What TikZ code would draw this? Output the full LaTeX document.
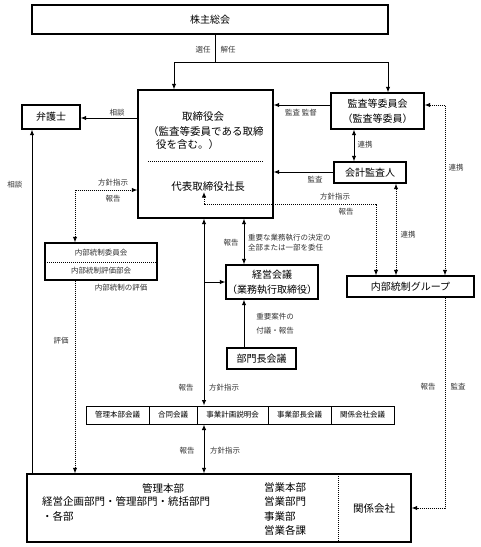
\documentclass[tikz,border=0pt]{standalone}
\usepackage{fontspec}
\setmainfont{Noto Sans CJK JP}
\usetikzlibrary{arrows.meta,calc}
\tikzset{
  box/.style={draw, line width=1.2pt, inner sep=0pt, align=center, font=\fontsize{10}{15}\selectfont},
  cell/.style={draw, line width=1pt, inner sep=0pt, minimum height=18pt, font=\fontsize{7.5}{9}\selectfont},
  lbl/.style={inner sep=0pt, align=left, font=\fontsize{7.5}{10}\selectfont, text=black!80},
  txt/.style={inner sep=0pt, font=\fontsize{10.5}{12}\selectfont},
  ln/.style={line width=1pt},
  tip/.tip={Latex[length=5.5pt,width=4.5pt]},
  arr/.style={line width=1pt, -tip},
  darr/.style={line width=1pt, tip-tip},
  dot/.style={line width=1pt, densely dotted},
}
\begin{document}
\begin{tikzpicture}[x=1pt,y=-1pt]
\useasboundingbox (0,0) rectangle (480,547);

% ---- boxes
\node[box, minimum width=356pt, minimum height=29pt] (sh) at (210,19.5) {株主総会};
\node[box, minimum width=135pt, minimum height=128pt] (bod) at (205.5,154) {};
\node[txt] (bodt1) at (203,117) {取締役会};
\node[txt, anchor=west] (bodt2) at (148,132) {（監査等委員である取締};
\node[txt, anchor=west] (bodt3) at (156,145) {役を含む。）};
\draw[dot] (148,161) -- (263,161);
\node[txt] (ceo) at (208,187) {代表取締役社長};

\node[box, minimum width=93pt, minimum height=36pt] (ac) at (377.5,111) {監査等委員会\\（監査等委員）};
\node[box, minimum width=58pt, minimum height=24pt] (lw) at (51,117) {弁護士};
\node[box, minimum width=72pt, minimum height=21pt] (ca) at (370,172.5) {会計監査人};
\node[box, minimum width=127pt, minimum height=21pt] (icg) at (410.5,286.5) {内部統制グループ};

\node[box, minimum width=112pt, minimum height=37pt] (icc) at (101,261.5) {};
\node[lbl] (icc1) at (101,253) {内部統制委員会};
\node[lbl] (icc2) at (101,271) {内部統制評価部会};
\draw[dot] (45,262) -- (157,262);

\node[box, minimum width=92pt, minimum height=34pt] (mm) at (272,282) {経営会議\\（業務執行取締役）};
\node[box, minimum width=69pt, minimum height=21pt] (dh) at (261.5,358.5) {部門長会議};

% meetings row
\node[cell, minimum width=63pt] (mt1) at (117.5,415) {管理本部会議};
\node[cell, minimum width=48pt] (mt2) at (173,415) {合同会議};
\node[cell, minimum width=71pt] (mt3) at (232.5,415) {事業計画説明会};
\node[cell, minimum width=63pt] (mt4) at (299.5,415) {事業部長会議};
\node[cell, minimum width=63pt] (mt5) at (362.5,415) {関係会社会議};

% bottom box
\node[box, minimum width=384pt, minimum height=68pt] (bb) at (219,508) {};
\draw[dot] (338,474) -- (338,542);
\node[txt] (kh1) at (163,488) {管理本部};
\node[txt, anchor=west] (kh2) at (42,501) {経営企画部門・管理部門・統括部門};
\node[txt, anchor=west] (kh3) at (42,516) {・各部};
\node[txt, anchor=west] (eg1) at (264,487) {営業本部};
\node[txt, anchor=west] (eg2) at (264,501) {営業部門};
\node[txt, anchor=west] (eg3) at (264,517) {事業部};
\node[txt, anchor=west] (eg4) at (264,530) {営業各課};
\node[txt] (kk) at (374,509) {関係会社};

% ---- helper coordinates
\coordinate (j) at (215,62);
\coordinate (jl) at (174,62);
\coordinate (jr) at (388,62);
\coordinate (y105) at (0,105);
\coordinate (y118) at (0,118);
\coordinate (y172) at (0,172);
\coordinate (y190) at (0,190);
\coordinate (y204) at (0,204);
\coordinate (y282) at (0,282);
\coordinate (x32) at (32,0);
\coordinate (x75) at (75,0);
\coordinate (x204) at (204,0);
\coordinate (x244) at (244,0);
\coordinate (x354) at (354,0);
\coordinate (x376) at (376,0);
\coordinate (x396) at (396,0);
\coordinate (x445) at (445,0);

% ---- connectors
\draw[ln] (sh.south -| j) -- (j);
\draw[arr] (j) -- (jl) -- (jl |- bod.north);
\draw[arr] (j) -- (jr) -- (jr |- ac.north);
\node[lbl] (l1) at (203,50) {選任};
\node[lbl] (l2) at (228,50) {解任};

\draw[arr] (ac.west |- y105) -- (bod.east |- y105);
\node[lbl] (l3) at (301,113) {監査 監督};

\draw[arr] (bod.west |- y118) -- (lw.east |- y118);
\node[lbl] (l4) at (117,113) {相談};

\draw[arr] (bb.north -| x32) -- (lw.south -| x32);
\node[lbl] (l5) at (15,185) {相談};

\draw[arr] (ca.west |- y172) -- (bod.east |- y172);
\node[lbl] (l6) at (315,180) {監査};

\draw[darr] (ac.south -| x354) -- (ca.north -| x354);
\node[lbl] (l7) at (365,145) {連携};

\draw[dot, darr] (ac.east |- y105) -| (icg.north -| x445);
\node[lbl] (l8) at (456,168) {連携};

\draw[dot, darr] (ca.south -| x396) -- (icg.north -| x396);
\node[lbl] (l9) at (408,235) {連携};

\draw[dot, darr] (ceo.south -| x204) |- (x376 |- y204) -- (icg.north -| x376);
\node[lbl] (l10) at (335,197) {方針指示};
\node[lbl] (l11) at (346,212) {報告};

\draw[dot, darr] (icc.north -| x75) |- (bod.west |- y190);
\node[lbl] (l12) at (113,183) {方針指示};
\node[lbl] (l13) at (113,199) {報告};

\draw[dot, arr] (icc.south -| x75) -- (bb.north -| x75);
\node[lbl] (l14) at (61,341) {評価};
\node[lbl] (l15) at (121,288) {内部統制の評価};

\draw[darr] (bod.south -| x204) -- (mt3.north -| x204);
\draw[arr] (x204 |- y282) -- (mm.west |- y282);
\node[lbl] (l16) at (186,388) {報告};
\node[lbl] (l17) at (224,388) {方針指示};

\draw[darr] (bod.south -| x244) -- (mm.north -| x244);
\node[lbl] (l18) at (231,243) {報告};
\node[lbl, anchor=west] (l19) at (248,243) {重要な業務執行の決定の\\全部または一部を委任};

\draw[arr] (dh.north -| x244) -- (mm.south -| x244);
\node[lbl] (l20) at (275,317) {重要案件の};
\node[lbl] (l21) at (275,331) {付議・報告};

\draw[darr] (mt3.south -| x204) -- (bb.north -| x204);
\node[lbl] (l22) at (187,451) {報告};
\node[lbl] (l23) at (225,451) {方針指示};

\draw[dot, arr] (icg.south -| x445) |- (bb.east);
\node[lbl] (l24) at (428,387) {報告};
\node[lbl] (l25) at (458,387) {監査};
\end{tikzpicture}
\end{document}
